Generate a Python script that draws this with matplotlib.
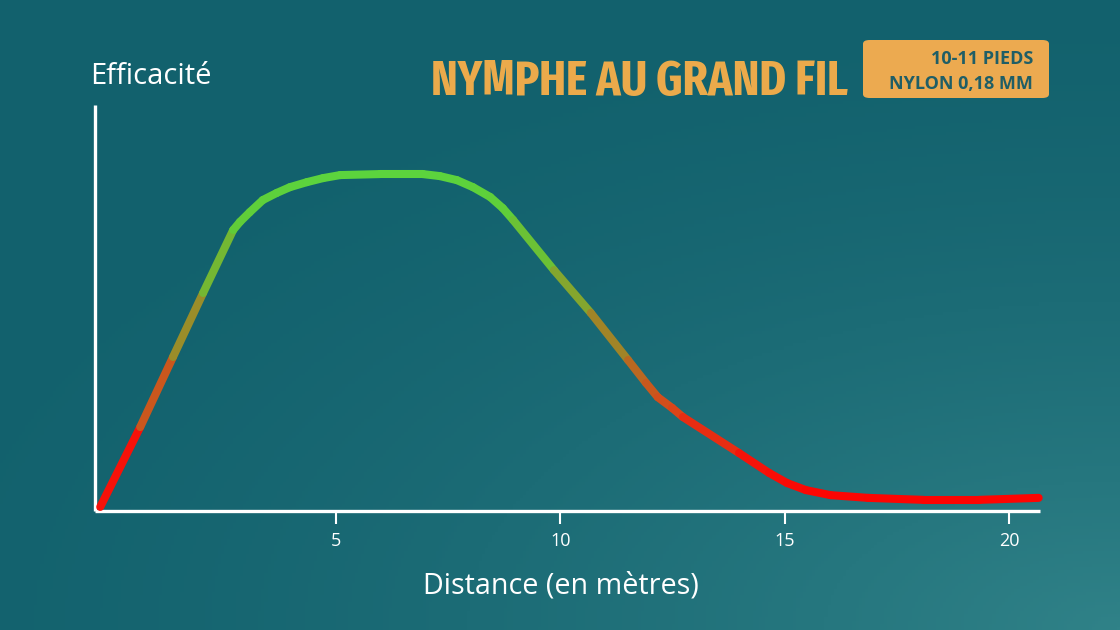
import os
import numpy as np
import matplotlib
matplotlib.use("Agg")
import matplotlib.pyplot as plt
from matplotlib import font_manager as fm
from matplotlib.collections import LineCollection
from matplotlib.colors import LinearSegmentedColormap
from matplotlib.patches import FancyBboxPatch

# ---------------- data ----------------
distance = [-0.24, 0.65, 1.38, 2.05, 2.72, 2.87, 3.09, 3.38, 3.69, 3.98, 4.36, 4.72,
            5.10, 5.99, 6.94, 7.32, 7.70, 8.06, 8.44, 8.72, 8.95, 9.86, 10.68, 11.51,
            11.91, 12.17, 12.49, 12.73, 13.98, 14.65, 15.05, 15.47, 16.02, 16.85,
            18.09, 19.32, 20.65]
efficacite = [1.2, 24.9, 45.7, 64.7, 83.4, 85.8, 88.7, 92.3, 94.4, 96.1, 97.6, 98.8,
              99.7, 100.0, 100.0, 99.4, 98.2, 96.1, 93.2, 89.9, 86.4, 71.5, 58.8, 44.8,
              38.0, 33.8, 30.6, 27.9, 17.2, 11.3, 8.3, 6.2, 4.7, 3.9,
              3.3, 3.3, 3.9]
xticks = [5, 10, 15, 20]
xtick_labels = ["5", "10", "15", "20"]

title = "NYMPHE AU GRAND FIL"
box_lines = ["10-11 PIEDS", "NYLON 0,18 MM"]
ylabel = "Efficacité"
xlabel = "Distance (en mètres)"

W, H = 1120, 630
fig = plt.figure(figsize=(W / 100, H / 100), dpi=100)


# ---------------- condensed font for the title ----------------
def pick_condensed():
    best, key = None, None
    for f in fm.fontManager.ttflist:
        nm = f.name.lower()
        fn = os.path.basename(f.fname).lower().replace("-", "").replace("_", "")
        if "cjk" in nm or "mono" in nm or "serif" in nm or "italic" in fn:
            continue
        if "ultracondensed" in fn or "extracondensed" in fn:
            rank = 0
        elif "semicondensed" in fn:
            rank = 2
        elif "condensed" in fn or "narrow" in fn or "condensed" in nm:
            rank = 1
        else:
            continue
        if "bold" in fn and "extrabold" not in fn and "semibold" not in fn:
            wr = 0
        elif "semibold" in fn or "extrabold" in fn:
            wr = 1
        else:
            wr = 3
        sans = 0 if nm in ("noto sans", "noto sans display", "open sans", "roboto") else 1
        k = (rank, wr, sans, fn)
        if key is None or k < key:
            best, key = f, k
    return best


cf = pick_condensed()
if cf is not None:
    title_fp = fm.FontProperties(fname=cf.fname)
else:
    title_fp = fm.FontProperties(family=["DejaVu Sans"], weight="bold")

# ---------------- background gradient ----------------
bg_ax = fig.add_axes([0, 0, 1, 1])
yy, xx = np.mgrid[0:1:200j, 0:1:360j]
d = np.sqrt((1 - xx) ** 2 * 0.8 + (1 - yy) ** 2)
t = np.clip(1 - d / 1.05, 0, 1) ** 1.6
base = np.array([18, 97, 109]) / 255
light = np.array([48, 130, 136]) / 255
img = base[None, None, :] + t[..., None] * (light - base)[None, None, :]
bg_ax.imshow(img, extent=[0, 1, 0, 1], aspect="auto", origin="upper")
bg_ax.set_axis_off()

# ---------------- main axes ----------------
left, right, bottom, top = 95, 1040, 511, 105
ax = fig.add_axes([left / W, 1 - bottom / H, (right - left) / W, (bottom - top) / H])
ax.patch.set_alpha(0)
ax.set_xlim(-0.356, 20.68)
ax.set_ylim(0, 120.5)
for s in ["top", "right"]:
    ax.spines[s].set_visible(False)
for s in ["left", "bottom"]:
    ax.spines[s].set_color("white")
    ax.spines[s].set_linewidth(2.4)
    ax.spines[s].set_capstyle("butt")
ax.set_yticks([])
ax.set_xticks(xticks)
ax.set_xticklabels(xtick_labels)
ax.tick_params(axis="x", direction="out", length=9, width=1.5, color="white",
               labelcolor="white", labelsize=13, pad=6)
for lab in ax.get_xticklabels():
    lab.set_family(["Open Sans", "DejaVu Sans"])

# gradient line
cmap = LinearSegmentedColormap.from_list(
    "eff",
    [(0.0, (1.0, 0.0, 0.0)),
     (0.15, (0.96, 0.08, 0.04)),
     (0.30, (0.85, 0.28, 0.10)),
     (0.45, (0.69, 0.45, 0.14)),
     (0.65, (0.52, 0.65, 0.18)),
     (0.85, (0.38, 0.80, 0.22)),
     (1.0, (0.36, 0.83, 0.24))])
pts = np.column_stack([distance, efficacite])
segs = np.stack([pts[:-1], pts[1:]], axis=1)
mid = (pts[:-1, 1] + pts[1:, 1]) / 2 / 100
lc = LineCollection(segs, colors=cmap(mid), linewidths=5.8, capstyle="round",
                    joinstyle="round", zorder=3)
lc.set_clip_on(False)
ax.add_collection(lc)

# ---------------- texts ----------------
t_y = fig.text(90 / W, 1 - 84 / H, ylabel, color="white", fontsize=20,
               family=["Open Sans", "DejaVu Sans"], weight="medium",
               ha="left", va="baseline")
t_x = fig.text(561 / W, 1 - 593 / H, xlabel, color="white", fontsize=20,
               family=["Open Sans", "DejaVu Sans"], weight="medium",
               ha="center", va="baseline")
t_title = fig.text(848 / W, 1 - 95 / H, title, color="#EBAA4B",
                   fontproperties=title_fp, ha="right", va="baseline")
t_title.set_fontsize(46)

box = FancyBboxPatch((863 / W, 1 - 98 / H), (1049 - 863) / W, (98 - 40) / H,
                     boxstyle="round,pad=0,rounding_size=0.006",
                     transform=fig.transFigure, facecolor="#ECAA50",
                     edgecolor="none", zorder=2)
fig.patches.append(box)
t_b1 = fig.text(1033 / W, 1 - 64 / H, box_lines[0], color="#1F5E66", fontsize=12.5,
                weight="bold", family=["Open Sans", "DejaVu Sans"], ha="right",
                va="baseline", zorder=3)
t_b2 = fig.text(1033 / W, 1 - 89 / H, box_lines[1], color="#1F5E66", fontsize=12.5,
                weight="bold", family=["Open Sans", "DejaVu Sans"], ha="right",
                va="baseline", zorder=3)

# fit text widths to the reference layout
fig.canvas.draw()
r = fig.canvas.get_renderer()
for txt, target, mx in [(t_title, 418, 52), (t_y, 123, 21), (t_x, 275, 21),
                        (t_b2, 145, 13)]:
    w = txt.get_window_extent(r).width
    fs = txt.get_fontsize() * target / w
    txt.set_fontsize(min(fs, mx))
t_b1.set_fontsize(t_b2.get_fontsize())

fig.savefig("out.png", dpi=100)
